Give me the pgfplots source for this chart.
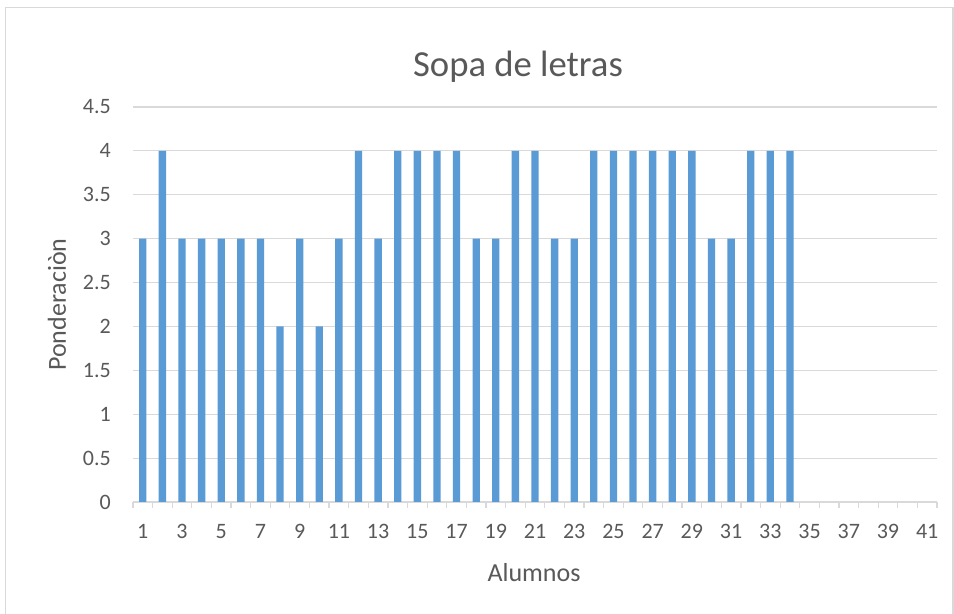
\documentclass[border=0pt]{standalone}
\usepackage{pgfplots}
\pgfplotsset{compat=1.18}
\usepackage{fontspec}
\setmainfont{Carlito}
\definecolor{barblue}{HTML}{5B9BD5}
\definecolor{gridgray}{HTML}{D9D9D9}
\definecolor{textgray}{HTML}{595959}
\begin{document}
\begin{tikzpicture}
\useasboundingbox (0,0) rectangle (715.5pt,460.5pt);
\fill[white] (0,0) rectangle (715.5pt,460.5pt);
\draw[gridgray, line width=1.1pt] (4.1pt,-5pt) -- (4.1pt,454.9pt) -- (714.75pt,454.9pt) -- (714.75pt,-5pt);
\begin{axis}[
  at={(99.75pt,84pt)}, anchor=south west,
  scale only axis, width=603pt, height=296.25pt,
  xmin=0.5, xmax=41.5, ymin=0, ymax=4.5,
  ybar, bar width=5.5pt,
  axis x line*=bottom, axis y line*=left,
  x axis line style={draw=gridgray, line width=1pt},
  y axis line style={draw=none},
  xtick={1,3,...,41},
  minor xtick={0.5,1.5,...,41.5},
  tick align=outside,
  major tick length=0pt,
  minor tick length=4.5pt,
  minor tick style={draw=gridgray, line width=0.9pt},
  ytick={0,0.5,...,4.5},
  yticklabels={0,0.5,1,1.5,2,2.5,3,3.5,4,4.5},
  ymajorgrids, grid style={draw=gridgray, line width=0.9pt},
  /pgf/number format/assume math mode=true,
  every tick label/.append style={text=textgray, font=\fontsize{16.5}{19}\selectfont},
  xticklabel style={anchor=base, yshift=-27.75pt, inner sep=0pt},
  yticklabel style={anchor=east, inner sep=0pt, xshift=-16.5pt},
]
\addplot[fill=barblue, draw=none] coordinates {
(1,3) (2,4) (3,3) (4,3) (5,3) (6,3) (7,3) (8,2) (9,3) (10,2)
(11,3) (12,4) (13,3) (14,4) (15,4) (16,4) (17,4) (18,3) (19,3) (20,4)
(21,4) (22,3) (23,3) (24,4) (25,4) (26,4) (27,4) (28,4) (29,4) (30,3)
(31,3) (32,4) (33,4) (34,4)
};
\end{axis}
\node[text=textgray, font=\fontsize{27.5}{32}\selectfont, anchor=center] at (388.5pt,410.25pt) {Sopa de letras};
\node[text=textgray, font=\fontsize{19.5}{23}\selectfont, anchor=center] at (400.5pt,30.75pt) {Alumnos};
\node[text=textgray, font=\fontsize{19.5}{23}\selectfont, anchor=center, rotate=90] at (42.75pt,232pt) {Ponderaciòn};
\end{tikzpicture}
\end{document}
